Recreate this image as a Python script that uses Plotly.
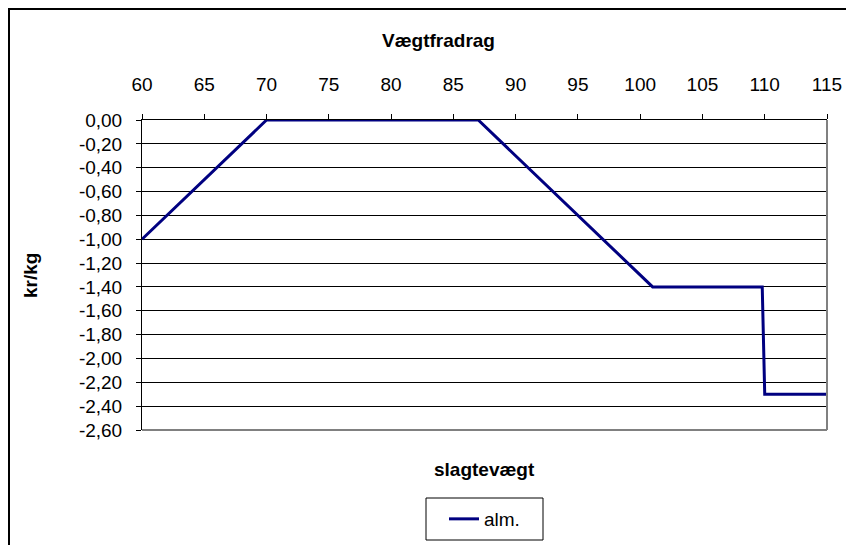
import plotly.graph_objects as go

# data
weight = [60, 70, 87, 88, 89, 90, 91, 92, 93, 94, 95, 96, 97, 98, 99, 100, 101, 109.8, 110, 115]
deduction = [-1.0, 0.0, 0.0, -0.1, -0.2, -0.3, -0.4, -0.5, -0.6, -0.7, -0.8, -0.9, -1.0, -1.1, -1.2, -1.3, -1.4, -1.4, -2.3, -2.3]
series_name = "alm."
title_text = "Vægtfradrag"
x_title = "slagtevægt"
y_title = "kr/kg"
y_tickvals = [0.0, -0.2, -0.4, -0.6, -0.8, -1.0, -1.2, -1.4, -1.6, -1.8, -2.0, -2.2, -2.4, -2.6]
y_ticktext = ["0,00", "-0,20", "-0,40", "-0,60", "-0,80", "-1,00", "-1,20", "-1,40",
              "-1,60", "-1,80", "-2,00", "-2,20", "-2,40", "-2,60"]
x_tickvals = [60, 65, 70, 75, 80, 85, 90, 95, 100, 105, 110, 115]

# page has an 8px body margin; work in figure coordinates (screen - 8)
OFF = 8
W, H = 846, 537
L, R, T, B = 134, 27, 112, 115
PW, PH = W - L - R, H - T - B


def px(x):
    return (x - OFF - L) / PW


def py(y):
    return (H - B - (y - OFF)) / PH


FONT = "Liberation Sans, Arial, sans-serif"
FS = 19

fig = go.Figure()
fig.add_trace(go.Scatter(
    x=weight, y=deduction, mode="lines", name=series_name,
    line=dict(color="#000080", width=3), cliponaxis=False,
))

fig.update_layout(
    width=W, height=H,
    margin=dict(l=L, r=R, t=T, b=B, pad=0, autoexpand=False),
    paper_bgcolor="white", plot_bgcolor="white",
    font=dict(family=FONT, size=FS, color="black"),
    showlegend=True,
    legend=dict(
        x=px(484.5), y=py(519), xanchor="center", yanchor="middle",
        bgcolor="rgba(0,0,0,0)", borderwidth=0,
        font=dict(family=FONT, size=FS, color="black"),
        itemwidth=30,
    ),
    xaxis=dict(
        side="top", range=[60, 115], tickvals=x_tickvals,
        ticks="outside", ticklen=5, tickcolor="black", tickwidth=1,
        showline=True, linecolor="black", linewidth=1,
        showgrid=False, zeroline=False, automargin=False,
        ticklabelstandoff=15,
        tickfont=dict(family=FONT, size=FS, color="black"),
    ),
    yaxis=dict(
        range=[-2.6, 0], tickvals=y_tickvals, ticktext=y_ticktext,
        ticks="outside", ticklen=5, tickcolor="black", tickwidth=1,
        showline=True, linecolor="black", linewidth=1,
        showgrid=True, gridcolor="black", gridwidth=1,
        zeroline=False, automargin=False,
        ticklabelstandoff=10,
        tickfont=dict(family=FONT, size=FS, color="black"),
    ),
    shapes=[
        # outer chart border
        dict(type="rect", xref="paper", yref="paper",
             x0=px(9), x1=px(852), y0=py(560), y1=py(9),
             line=dict(color="black", width=2), layer="below"),
        # plot area right/bottom border (gray)
        dict(type="line", xref="paper", yref="paper",
             x0=1, x1=1, y0=0, y1=1, line=dict(color="#808080", width=2)),
        dict(type="line", xref="paper", yref="paper",
             x0=0, x1=1, y0=0, y1=0, line=dict(color="#808080", width=2)),
        # legend box
        dict(type="rect", xref="paper", yref="paper",
             x0=px(426), x1=px(543), y0=py(540), y1=py(498),
             line=dict(color="black", width=1)),
    ],
    annotations=[
        dict(text="<b>" + title_text + "</b>", xref="paper", yref="paper",
             x=px(438), y=py(40), xanchor="center", yanchor="middle",
             showarrow=False, font=dict(family=FONT, size=FS, color="black")),
        dict(text="<b>" + x_title + "</b>", xref="paper", yref="paper",
             x=px(484), y=py(470), xanchor="center", yanchor="middle",
             showarrow=False, font=dict(family=FONT, size=FS, color="black")),
        dict(text="<b>" + y_title + "</b>", xref="paper", yref="paper",
             x=px(30), y=py(276), xanchor="center", yanchor="middle",
             textangle=-90, showarrow=False,
             font=dict(family=FONT, size=FS, color="black")),
    ],
)

fig.write_html("out.html")
